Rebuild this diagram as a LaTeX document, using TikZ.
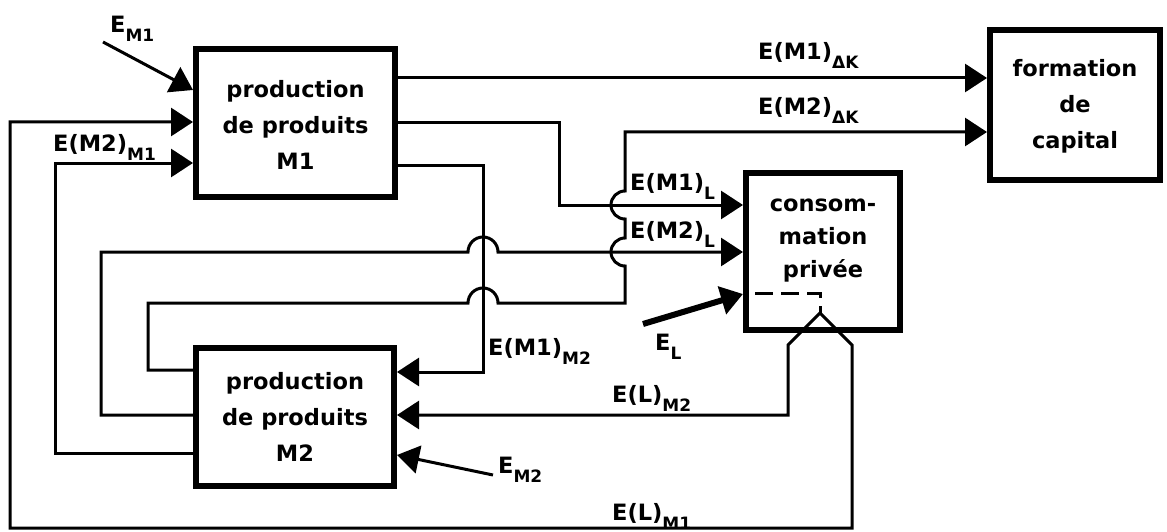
\documentclass[tikz,border=0pt]{standalone}
\usepackage{fontspec}
\setmainfont{DejaVu Sans}
\usetikzlibrary{arrows.meta}
\newcommand\sbx[1]{\raisebox{-9pt}{\fontsize{17}{17}\selectfont #1}}
\begin{document}
\begin{tikzpicture}[x=1pt,y=-1pt,
  box/.style={draw,line width=6pt,inner sep=0pt},
  conn/.style={line width=3pt},
  arr/.style={-{Triangle[length=22pt,width=28pt]}},
  lbl/.style={anchor=base west,inner sep=0pt,font=\fontsize{22.5}{35}\selectfont\bfseries},
  txt/.style={align=center,inner sep=0pt,font=\fontsize{22.5}{36}\selectfont\bfseries}]
\useasboundingbox (0,0) rectangle (1167,532);
% boxes
\node[box,minimum width=199pt,minimum height=148pt] (M1) at (295.5,123) {};
\node[box,minimum width=198pt,minimum height=138pt] (M2) at (295,417) {};
\node[box,minimum width=154pt,minimum height=157pt] (C) at (823,251.5) {};
\node[box,minimum width=170pt,minimum height=150pt] (F) at (1075,105) {};
\node[txt,yshift=-2pt] (M1t) at (M1) {production\\de produits\\M1};
\node[txt] (M2t) at (M2) {production\\de produits\\M2};
\node[txt,yshift=11pt,font=\fontsize{22.5}{33}\selectfont\bfseries] (Ct) at (C) {consom-\\mation\\privée};
\node[txt,yshift=-1pt] (Ft) at (F) {formation\\de\\capital};
% coordinates
\coordinate (apex) at (820,313);
\coordinate (dstart) at (755,293);
\coordinate (eM1s) at (103,42);
\coordinate (eM2s) at (493,475);
\coordinate (eLs) at (643,324);
% connectors
\draw[conn,arr] (M1.east |- 0,78) -- (F.west |- 0,78);
\draw[conn,arr] (M1.east |- 0,123) -| (559,205) -- (C.west |- 0,205);
\draw[conn,arr] (M1.east |- 0,165) -| (483,372) -- (M2.east |- 0,372);
\draw[conn,arr] (M2.west |- 0,370) -| (148,303) -- (468,303)
   arc[start angle=180,end angle=0,radius=15pt] -- (625,303) -- (625,266)
   arc[start angle=270,end angle=90,radius=14pt] -- (625,219)
   arc[start angle=270,end angle=90,radius=14pt] -- (625,132) -- (F.west |- 0,132);
\draw[conn,arr] (M2.west |- 0,415) -| (101,252) -- (468,252)
   arc[start angle=180,end angle=0,radius=15pt] -- (C.west |- 0,252);
\draw[conn,arr] (M2.west |- 0,453) -| (55,163) -- (M1.west |- 0,163);
\draw[conn,dash pattern=on 18pt off 8pt] (dstart) -| (apex);
\draw[conn,arr] (apex) -- (788,345) -- (788,415) -- (M2.east |- 0,415);
\draw[conn,arr] (apex) -- (852,345) -- (852,528) -- (10,528) -- (10,122) -- (M1.west |- 0,122);
\draw[conn,arr] (eM1s) -- (M1.west |- 0,90);
\draw[conn,arr] (eM2s) -- (M2.east |- 0,455);
\draw[line width=6pt,arr] (eLs) -- (C.west |- 0,294);
% labels
\node[lbl] (lEM1) at (110,33) {E\sbx{M1}};
\node[lbl] (lM2M1) at (53,152) {E(M2)\sbx{M1}};
\node[lbl] (lM1K) at (758,60) {E(M1)\sbx{ΔK}};
\node[lbl] (lM2K) at (758,115) {E(M2)\sbx{ΔK}};
\node[lbl] (lM1L) at (630,190) {E(M1)\sbx{L}};
\node[lbl] (lM2L) at (630,238) {E(M2)\sbx{L}};
\node[lbl] (lM1M2) at (488,355) {E(M1)\sbx{M2}};
\node[lbl] (lLM2) at (612,402) {E(L)\sbx{M2}};
\node[lbl] (lLM1) at (612,520) {E(L)\sbx{M1}};
\node[lbl] (lEL) at (655,350) {E\sbx{L}};
\node[lbl] (lEM2) at (498,473) {E\sbx{M2}};
\end{tikzpicture}
\end{document}
